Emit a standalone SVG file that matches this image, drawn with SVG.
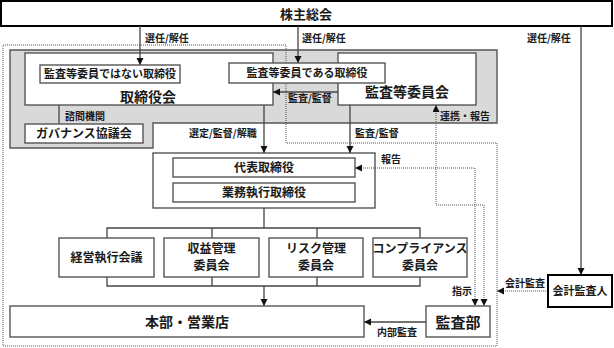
<svg xmlns="http://www.w3.org/2000/svg" width="614" height="348" viewBox="0 0 614 348">
<style>
.t{font-family:"Noto Sans CJK JP","Liberation Sans",sans-serif;fill:#1a1a1a;text-anchor:middle;font-weight:bold}
.lb{font-family:"Noto Sans CJK JP","Liberation Sans",sans-serif;fill:#1a1a1a;font-size:10px;font-weight:bold}
.box{fill:#fff;stroke:#555;stroke-width:1.4}
.bk{fill:#fff;stroke:#000;stroke-width:2}
.ln{fill:none;stroke:#444;stroke-width:1.3}
.dt{fill:none;stroke:#555;stroke-width:1;stroke-dasharray:1 1}
</style>
<defs>
<marker id="ah" markerUnits="userSpaceOnUse" markerWidth="8" markerHeight="8" refX="7" refY="3.5" orient="auto-start-reverse">
<path d="M0,0 L7,3.5 L0,7 z" fill="#111"/>
</marker>
</defs>
<rect width="614" height="348" fill="#fff"/>
<g id="board-area">
<path d="M10,50 H497 V123 H153 V148 H10 Z" fill="#d9d9d9" stroke="#555" stroke-width="1.4"/>
</g>
<g id="exec-area">
<path class="dt" d="M3,45 H286 V143 H497 V346 H3 Z"/>
</g>
<g id="shareholders"><rect class="bk" x="1" y="1" width="611" height="25"/><text class="t" x="306" y="18.5" font-size="13">株主総会</text></g>
<g id="board"><rect class="box" x="25" y="53" width="248" height="52"/><text class="t" x="148" y="101.5" font-size="14">取締役会</text></g>
<g id="audit-committee"><rect class="box" x="338" y="53" width="138" height="52"/><text class="t" x="407" y="97" font-size="14">監査等委員会</text></g>
<g id="executive"><rect class="box" x="153" y="153" width="222" height="55"/></g>
<g id="connectors">
<line class="ln" x1="140" y1="26" x2="140" y2="65" marker-end="url(#ah)"/>
<line class="ln" x1="298" y1="26" x2="298" y2="63" marker-end="url(#ah)"/>
<line class="ln" x1="581" y1="26" x2="581" y2="275" marker-end="url(#ah)"/>
<line class="ln" x1="338" y1="92" x2="273" y2="92" marker-end="url(#ah)"/>
<line class="ln" x1="59" y1="105" x2="59" y2="124"/>
<line class="ln" x1="264" y1="105" x2="264" y2="153" marker-end="url(#ah)"/>
<line class="ln" x1="350" y1="105" x2="350" y2="153" marker-end="url(#ah)"/>
<path class="ln" d="M264,208 V228 M107,238 V228 H420 V238 M212,228 V238 M317,228 V238"/>
<path class="ln" d="M107,277 V286 H420 V277 M212,277 V286 M317,277 V286"/>
<line class="ln" x1="264" y1="286" x2="264" y2="306" marker-end="url(#ah)"/>
<line class="ln" x1="426" y1="322" x2="364" y2="322" marker-end="url(#ah)"/>
<path class="dt" d="M355,168 H475 V306" marker-start="url(#ah)" marker-end="url(#ah)"/>
<path class="dt" d="M436,105 V205 H484 V306" marker-start="url(#ah)" marker-end="url(#ah)"/>
<line class="dt" x1="548" y1="291" x2="497" y2="291" marker-end="url(#ah)"/>
<text class="lb" x="145" y="41.5">選任/解任</text>
<text class="lb" x="302" y="41.5">選任/解任</text>
<text class="lb" x="527" y="41.5">選任/解任</text>
<text class="lb" x="288" y="102">監査/監督</text>
<text class="lb" x="65" y="119.5">諮問機関</text>
<text class="lb" x="189" y="136.5">選定/監督/解職</text>
<text class="lb" x="355" y="136.5">監査/監督</text>
<text class="lb" x="440" y="119.5">連携・報告</text>
<text class="lb" x="381" y="162.5">報告</text>
<text class="lb" x="452" y="294.5">指示</text>
<text class="lb" x="505" y="286.5">会計監査</text>
<text class="lb" x="377" y="335.5">内部監査</text>
</g>
<g id="non-audit-directors"><rect class="box" x="40" y="65" width="140" height="18"/><text class="t" x="110" y="78" font-size="11">監査等委員ではない取締役</text></g>
<g id="audit-directors"><rect class="box" x="229" y="63" width="156" height="20"/><text class="t" x="307" y="77" font-size="11">監査等委員である取締役</text></g>
<g id="governance"><rect class="box" x="25" y="124" width="118" height="19"/><text class="t" x="84" y="138" font-size="12">ガバナンス協議会</text></g>
<g id="president"><rect class="box" x="173" y="158" width="182" height="19"/><text class="t" x="264" y="171.5" font-size="12">代表取締役</text></g>
<g id="exec-directors"><rect class="box" x="173" y="183" width="182" height="19"/><text class="t" x="264" y="196.5" font-size="12">業務執行取締役</text></g>
<g id="mgmt-meeting"><rect class="box" x="59" y="238" width="95" height="39"/><text class="t" x="106.5" y="261.5" font-size="12">経営執行会議</text></g>
<g id="profit-committee"><rect class="box" x="164" y="238" width="95" height="39"/><text class="t" x="211.5" y="253" font-size="12">収益管理</text><text class="t" x="211.5" y="270" font-size="12">委員会</text></g>
<g id="risk-committee"><rect class="box" x="269" y="238" width="94" height="39"/><text class="t" x="316" y="253" font-size="12">リスク管理</text><text class="t" x="316" y="270" font-size="12">委員会</text></g>
<g id="compliance-committee"><rect class="box" x="373" y="238" width="94" height="39"/><text class="t" x="420" y="253" font-size="12">コンプライアンス</text><text class="t" x="420" y="270" font-size="12">委員会</text></g>
<g id="branches"><rect class="box" x="10" y="306" width="354" height="31"/><text class="t" x="187" y="327" font-size="14">本部・営業店</text></g>
<g id="audit-dept"><rect class="box" x="426" y="306" width="64" height="31"/><text class="t" x="458" y="327.5" font-size="15">監査部</text></g>
<g id="accounting-auditor"><rect class="bk" x="548" y="275" width="64" height="32"/><text class="t" x="580" y="295" font-size="11">会計監査人</text></g>
</svg>
